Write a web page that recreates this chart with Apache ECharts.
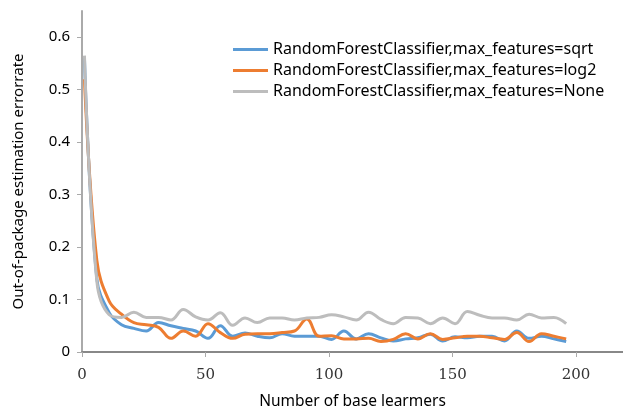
<!DOCTYPE html>
<html>
<head>
<meta charset="utf-8">
<script src="https://cdn.jsdelivr.net/npm/echarts@6/dist/echarts.min.js"></script>
<style>
  html, body { margin: 0; padding: 0; background: #fff; }
  #chart { width: 623px; height: 408px; }
</style>
</head>
<body>
<div id="chart"></div>
<script>
// number of base learners (x)
const learners = [1, 6, 11, 16, 21, 26, 31, 36, 41, 46, 51, 56, 61, 66, 71, 76, 81, 86, 91, 96,
  101, 106, 111, 116, 121, 126, 131, 136, 141, 146, 151, 156, 161, 166, 171, 176, 181, 186, 191, 196];

// out-of-bag error rate per max_features setting
const errSqrt = [0.56, 0.14, 0.075, 0.052, 0.045, 0.040, 0.056, 0.050, 0.045, 0.040,
  0.026, 0.050, 0.030, 0.036, 0.030, 0.027, 0.035, 0.030, 0.030, 0.030,
  0.024, 0.040, 0.025, 0.035, 0.027, 0.021, 0.025, 0.027, 0.034, 0.021,
  0.029, 0.027, 0.030, 0.030, 0.021, 0.040, 0.026, 0.030, 0.025, 0.020];
const errLog2 = [0.52, 0.175, 0.097, 0.072, 0.056, 0.052, 0.047, 0.026, 0.040, 0.030,
  0.054, 0.037, 0.026, 0.034, 0.035, 0.035, 0.037, 0.040, 0.063, 0.030,
  0.031, 0.025, 0.025, 0.026, 0.020, 0.024, 0.035, 0.025, 0.035, 0.024,
  0.027, 0.030, 0.030, 0.027, 0.024, 0.037, 0.020, 0.035, 0.030, 0.025];
const errNone = [0.565, 0.135, 0.071, 0.066, 0.076, 0.066, 0.066, 0.061, 0.081, 0.067,
  0.061, 0.075, 0.051, 0.065, 0.056, 0.065, 0.065, 0.061, 0.065, 0.066,
  0.071, 0.067, 0.061, 0.076, 0.062, 0.054, 0.066, 0.065, 0.054, 0.065,
  0.054, 0.077, 0.070, 0.065, 0.065, 0.061, 0.072, 0.065, 0.066, 0.054];

const seriesNames = [
  'RandomForestClassifier,max_features=sqrt',
  'RandomForestClassifier,max_features=log2',
  'RandomForestClassifier,max_features=None'
];
const seriesColors = ['#5B9BD5', '#ED7D31', '#BDBDBD'];

const xTicks = [0, 50, 100, 150, 200];
const yTicks = [0, 0.1, 0.2, 0.3, 0.4, 0.5, 0.6];

const chart = echarts.init(document.getElementById('chart'));
const pairs = (ys) => learners.map((x, i) => [x, ys[i]]);

chart.setOption({
  animation: false,
  grid: { left: 82, right: 0, top: 11, bottom: 56, outerBoundsMode: 'none' },
  legend: {
    orient: 'vertical',
    left: 228,
    top: 36,
    itemWidth: 35,
    itemHeight: 3,
    itemGap: 4,
    icon: 'rect',
    textStyle: { fontFamily: 'Noto Sans', fontSize: 16, color: '#000', lineHeight: 17 },
    data: seriesNames
  },
  xAxis: {
    type: 'value',
    min: 0,
    max: 219,
    name: 'Number of base learmers',
    nameLocation: 'middle',
    nameGap: 42,
    nameTextStyle: { fontFamily: 'Noto Sans', fontSize: 15.5, color: '#000' },
    axisLine: { lineStyle: { color: '#888', width: 2 } },
    axisTick: { show: true, length: 5, customValues: xTicks, lineStyle: { color: '#aaa' } },
    axisLabel: { customValues: xTicks, margin: 16, fontFamily: 'DejaVu Serif', fontSize: 15, color: '#333' },
    splitLine: { show: false }
  },
  yAxis: {
    type: 'value',
    min: 0,
    max: 0.65,
    name: 'Out-of-package estimation errorrate',
    nameLocation: 'middle',
    nameGap: 56,
    nameTextStyle: { fontFamily: 'Noto Sans', fontSize: 15, color: '#000' },
    axisLine: { show: true, lineStyle: { color: '#aaa', width: 2 } },
    axisTick: { show: true, length: 5, customValues: yTicks, lineStyle: { color: '#aaa' } },
    axisLabel: { customValues: yTicks, margin: 12, fontFamily: 'Noto Sans', fontSize: 15, color: '#000' },
    splitLine: { show: false }
  },
  series: seriesNames.map((name, k) => ({
    name,
    type: 'line',
    data: pairs([errSqrt, errLog2, errNone][k]),
    smooth: 0.4,
    showSymbol: false,
    symbol: 'none',
    lineStyle: { width: 3, color: seriesColors[k] },
    itemStyle: { color: seriesColors[k] }
  }))
});
</script>
</body>
</html>
